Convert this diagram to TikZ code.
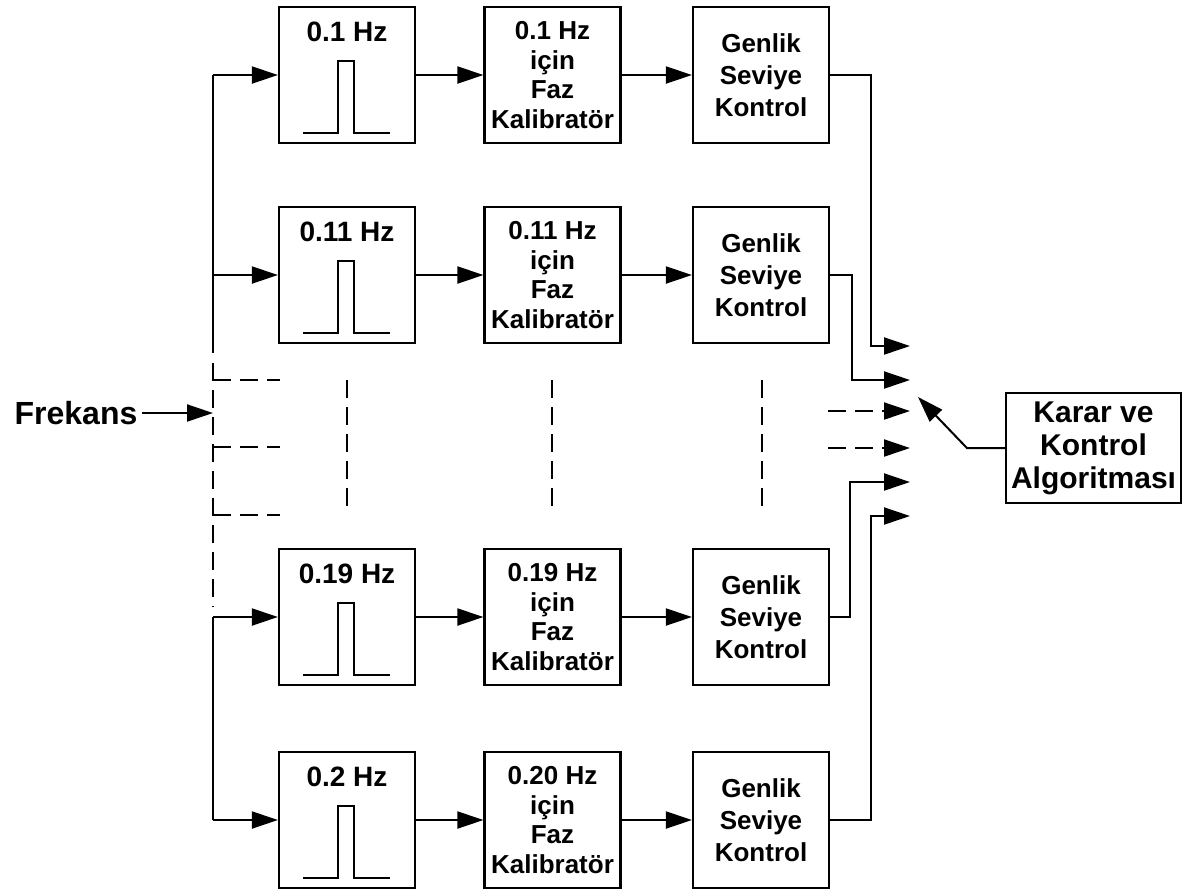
\documentclass[tikz,border=0pt]{standalone}
\usepackage{fontspec}
\setmainfont{Liberation Sans}
\usetikzlibrary{arrows.meta,positioning}

\begin{document}
\begin{tikzpicture}[x=0.5pt,y=-0.5pt,line width=1pt,
  blok/.style={draw,line width=1.1pt,minimum width=68pt,minimum height=68pt,inner sep=0pt},
  yazi/.style={font=\fontsize{13}{14.8}\selectfont\bfseries,align=center},
  ok/.style={-{Triangle[length=13pt,width=8.5pt]}},
  kesik/.style={dash pattern=on 9pt off 4.5pt}]
\useasboundingbox (0,0) rectangle (1182,891);
% filtre, faz ve genlik satirlari
\foreach \i/\yy/\fr/\fz in {1/75/0.1/0.1,2/275/0.11/0.11,3/617/0.19/0.19,4/820/0.2/0.20}{
  \node[blok] (f\i) at (347,\yy) {};
  \node[font=\fontsize{14}{16}\selectfont\bfseries] (fl\i) at (347,\yy-43) {\fr{} Hz};
  \draw (f\i.west) ++(25,58) -- ++(35,0) -- ++(0,-72) -- ++(16,0) -- ++(0,72) -- ++(36,0);
  \node[blok,yazi] (p\i) at (552.5,\yy) {\fz{} Hz\\için\\Faz\\Kalibratör};
  \node[blok,font=\fontsize{13}{16}\selectfont\bfseries,align=center] (g\i) at (761,\yy) {Genlik\\Seviye\\Kontrol};
  \coordinate (b\i) at (213,\yy);
  \draw[ok] (b\i) -- (f\i);
  \draw[ok] (f\i) -- (p\i);
  \draw[ok] (p\i) -- (g\i);
}
% giris hatti
\node[font=\fontsize{16}{18}\selectfont\bfseries,inner sep=2pt] (frek) at (76,413) {Frekans};
\coordinate (giris) at (213,413);
\draw[ok] (frek) -- (giris);
\draw (b1) -- (b2) -- (213,353);
\draw[kesik] (213,363) -- (213,607);
\draw (b3) -- (b4);
\foreach \yy in {380,447,515}
  \draw[kesik] (213,\yy) -- (280,\yy);
\foreach \xx in {347,552,762}
  \draw[kesik] (\xx,380) -- (\xx,512);
% birlestirme
\coordinate (m1) at (910,346);
\coordinate (m2) at (910,380);
\coordinate (m3) at (910,411);
\coordinate (m4) at (910,448);
\coordinate (m5) at (910,482);
\coordinate (m6) at (910,516);
\coordinate (d3) at (828,411);
\coordinate (d4) at (828,448);
\draw[ok] (g1.east) -- ++(41,0) |- (m1);
\draw[ok] (g2.east) -- ++(22,0) |- (m2);
\draw[ok,kesik] (d3) -- (m3);
\draw[ok,kesik] (d4) -- (m4);
\draw[ok] (g3.east) -- ++(20,0) |- (m5);
\draw[ok] (g4.east) -- ++(41,0) |- (m6);
% karar blogu
\node[draw,line width=1.1pt,minimum width=87.5pt,minimum height=55pt,inner sep=0pt,
  font=\fontsize{15}{16.5}\selectfont\bfseries,align=center] (karar) at (1093.5,448) {Karar ve\\Kontrol\\Algoritması};
\coordinate (hedef) at (918,397);
\draw[ok] (karar.west) -- ++(-38,0) -- (hedef);
\end{tikzpicture}
\end{document}
